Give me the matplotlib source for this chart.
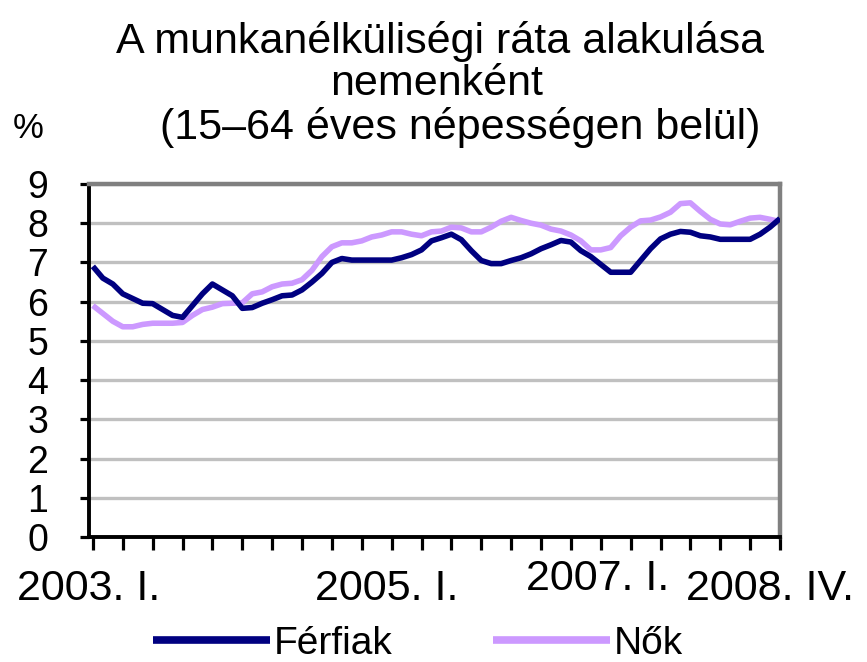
import numpy as np
import matplotlib
matplotlib.use("Agg")
import matplotlib.pyplot as plt
from matplotlib.transforms import ScaledTranslation

# Monthly (3-month moving average) values, 2003 Feb .. 2008 Nov
ferfiak = [6.9, 6.6, 6.45, 6.2, 6.08, 5.96, 5.95, 5.8, 5.65, 5.6,
           5.9, 6.2, 6.45, 6.3, 6.15, 5.83, 5.85, 5.96, 6.05, 6.15,
           6.17, 6.3, 6.5, 6.72, 7.0, 7.1, 7.06, 7.06, 7.06, 7.06,
           7.06, 7.12, 7.2, 7.32, 7.55, 7.63, 7.72, 7.58, 7.3, 7.05,
           6.97, 6.97, 7.05, 7.12, 7.22, 7.35, 7.45, 7.56, 7.52, 7.3,
           7.15, 6.95, 6.75, 6.75, 6.75, 7.05, 7.35, 7.6, 7.72, 7.79,
           7.77, 7.68, 7.65, 7.59, 7.59, 7.59, 7.59, 7.72, 7.9, 8.12]
nok = [5.9, 5.7, 5.5, 5.36, 5.36, 5.42, 5.45, 5.45, 5.45, 5.47,
       5.65, 5.8, 5.86, 5.95, 5.96, 5.97, 6.2, 6.25, 6.38, 6.45,
       6.47, 6.56, 6.8, 7.15, 7.4, 7.5, 7.5, 7.55, 7.65, 7.7,
       7.78, 7.78, 7.72, 7.68, 7.78, 7.8, 7.9, 7.88, 7.78, 7.78,
       7.9, 8.05, 8.15, 8.07, 8.0, 7.95, 7.85, 7.8, 7.7, 7.55,
       7.32, 7.32, 7.38, 7.68, 7.9, 8.06, 8.08, 8.16, 8.28, 8.5,
       8.52, 8.3, 8.1, 7.98, 7.96, 8.05, 8.13, 8.15, 8.1, 8.04]
quarters = [f"{y}. {q}." for y in range(2003, 2009) for q in ["I", "II", "III", "IV"]]
tick_labels = ["2003. I.", "2005. I.", "2007. I.", "2008. IV."]
label_pos = [-0.13, 9.82, 16.88, 22.67]
series_names = ["Férfiak", "Nők"]
colors = ["#000080", "#CC99FF"]

plt.rcParams['font.family'] = ['Liberation Sans', 'DejaVu Sans']

fig = plt.figure(figsize=(8.67, 6.62), dpi=100)
ax = fig.add_axes([89/867, 1-537/662, (780-89)/867, (537-184)/662])

x = np.arange(len(ferfiak)) / 3.0
ax.plot(x, ferfiak, color=colors[0], lw=4.0, label=series_names[0], zorder=3, solid_capstyle='butt')
ax.plot(x, nok, color=colors[1], lw=4.0, label=series_names[1], zorder=2, solid_capstyle='butt')

ax.set_xlim(0, len(quarters) - 1)
ax.set_ylim(0, 9)
ax.set_yticks(range(0, 10))
ax.set_yticklabels([str(v) for v in range(0, 10)], fontsize=27)
ax.yaxis.grid(True, color="#C0C0C0", lw=2.4, zorder=0)
ax.set_axisbelow(True)

ax.set_xticks(np.arange(len(quarters)), minor=True)
ax.set_xticks(label_pos)
ax.set_xticklabels(tick_labels, fontsize=31)
ax.tick_params(axis='x', which='major', length=0, pad=23)
ax.tick_params(axis='x', which='minor', direction='out', length=9.5, width=2.3, color='black')
ax.tick_params(axis='y', direction='out', length=6.5, width=2.3, color='black', pad=23)
for lab in ax.get_xticklabels():
    if lab.get_text() == "2007. I.":
        lab.set_transform(lab.get_transform() + ScaledTranslation(0, 10/100, fig.dpi_scale_trans))

for s in ['top', 'right']:
    ax.spines[s].set_color('#808080')
    ax.spines[s].set_linewidth(3.2)
for s in ['left', 'bottom']:
    ax.spines[s].set_color('black')
    ax.spines[s].set_linewidth(2.8)

fig.text(440/867, 1-41/662, "A munkanélküliségi ráta alakulása", ha='center', va='center', fontsize=31)
fig.text(437/867, 1-84/662, "nemenként", ha='center', va='center', fontsize=31)
fig.text(460/867, 1-128/662, "(15–64 éves népességen belül)", ha='center', va='center', fontsize=31)
fig.text(28/867, 1-128/662, "%", ha='center', va='center', fontsize=25)

leg = fig.legend(loc='center', bbox_to_anchor=(418/867, 1-644/662), ncol=2, frameon=False,
                 fontsize=28, handlelength=3.0, handletextpad=0.1, columnspacing=2.6,
                 borderpad=0, borderaxespad=0)
for h in leg.get_lines():
    h.set_linewidth(5.5)

fig.savefig("out.png", dpi=100)
